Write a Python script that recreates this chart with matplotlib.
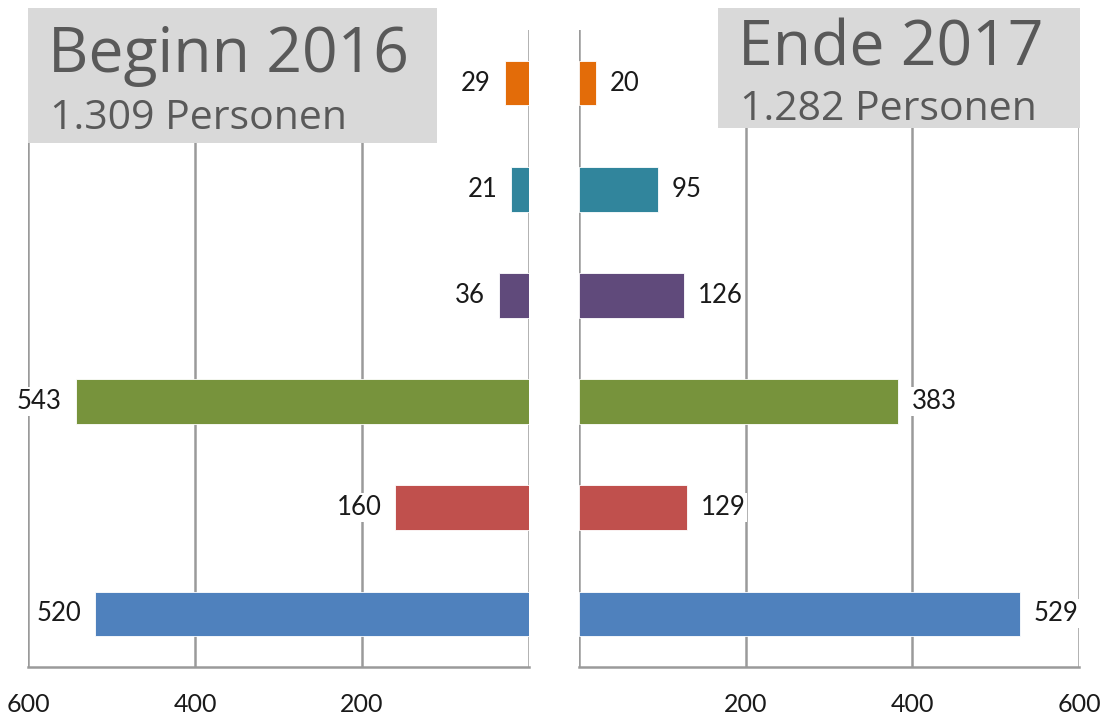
import matplotlib.pyplot as plt
from matplotlib.patches import Rectangle

# dados (de baixo para cima)
cores = ["#4F81BD", "#C0504D", "#77933C", "#604A7B", "#31859C", "#E36C09"]
inicio_2016 = [520, 160, 543, 36, 21, 29]
fim_2017 = [529, 129, 383, 126, 95, 20]
ticks_x = [200, 400, 600]
titulo_esq = "Beginn 2016"
sub_esq = "1.309 Personen"
titulo_dir = "Ende 2017"
sub_dir = "1.282 Personen"

cinza_grade = "#9a9a9a"
cor_texto = "#595959"
num_font = "Lato"

fig = plt.figure(figsize=(11.03, 7.17), dpi=100)
ax_esq = fig.add_axes([28 / 1103, 1 - 667 / 717, 501 / 1103, 637 / 717])
ax_dir = fig.add_axes([579 / 1103, 1 - 667 / 717, 500 / 1103, 637 / 717])

posicoes = list(range(len(inicio_2016)))

for ax, valores, lado in [(ax_esq, inicio_2016, -1), (ax_dir, fim_2017, 1)]:
    ax.barh(posicoes, valores, height=0.42, color=cores, edgecolor="white",
            linewidth=0.6, zorder=3)
    ax.set_xlim(0, 600)
    ax.set_ylim(-0.5, len(valores) - 0.5)
    for x in [0] + ticks_x:
        ax.axvline(x, color=cinza_grade, linewidth=1.8, zorder=1)
    ax.set_xticks(ticks_x)
    ax.set_xticklabels([str(t) for t in ticks_x], fontsize=18, family=num_font,
                       color="#1a1a1a")
    ax.tick_params(axis="x", length=0, pad=19)
    ax.set_yticks([])
    for s in ["left", "right", "top"]:
        ax.spines[s].set_visible(False)
    ax.spines["bottom"].set_color(cinza_grade)
    ax.spines["bottom"].set_linewidth(1.8)
    # rótulos dos valores com fundo branco
    for y, v in zip(posicoes, valores):
        ax.annotate(str(v), (v, y), xytext=(lado * 10, 0), textcoords="offset points",
                    ha="left" if lado > 0 else "right", va="center",
                    fontsize=18.5, family=num_font, color="#1a1a1a", zorder=4,
                    bbox=dict(fc="white", ec="none", pad=1.5),
                    annotation_clip=False)

ax_esq.invert_xaxis()

# caixas cinzentas dos títulos
fig.patches.append(Rectangle((28 / 1103, 1 - 143 / 717), 409 / 1103, 135 / 717,
                             transform=fig.transFigure, fc="#d9d9d9", ec="none", zorder=5))
fig.patches.append(Rectangle((718 / 1103, 1 - 128 / 717), 362 / 1103, 120 / 717,
                             transform=fig.transFigure, fc="#d9d9d9", ec="none", zorder=5))

fig.text(48 / 1103, 1 - 72 / 717, titulo_esq, fontsize=45, family="Open Sans",
         color=cor_texto, zorder=6, va="baseline")
fig.text(50 / 1103, 1 - 129 / 717, sub_esq, fontsize=29.5, family="Open Sans",
         color=cor_texto, zorder=6, va="baseline")
fig.text(738 / 1103, 1 - 66 / 717, titulo_dir, fontsize=45, family="Open Sans",
         color=cor_texto, zorder=6, va="baseline")
fig.text(740 / 1103, 1 - 120 / 717, sub_dir, fontsize=29.5, family="Open Sans",
         color=cor_texto, zorder=6, va="baseline")

fig.savefig("out.png", dpi=100)
